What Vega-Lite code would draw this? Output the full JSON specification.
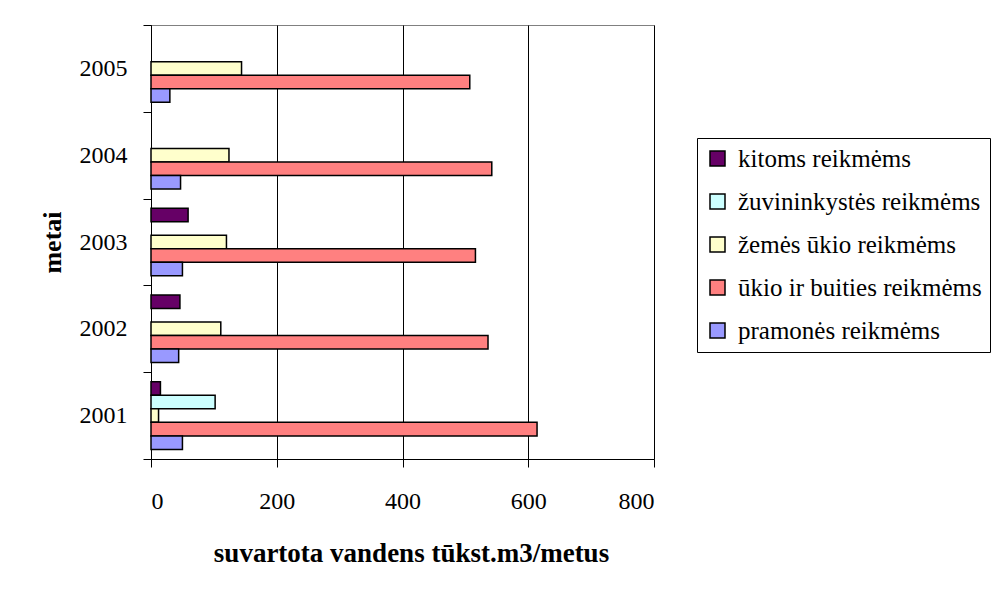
{
  "$schema": "https://vega.github.io/schema/vega-lite/v6.json",
  "width": 503,
  "height": 434,
  "autosize": {"type": "none"},
  "padding": {"left": 151, "top": 25, "right": 338, "bottom": 134},
  "background": "white",
  "config": {
    "font": "Liberation Serif",
    "view": {"stroke": "#808080", "strokeWidth": 1}
  },
  "data": {
    "values": [
      {"year": "2001", "series": "kitoms reikmėms", "value": 15},
      {"year": "2001", "series": "žuvininkystės reikmėms", "value": 102},
      {"year": "2001", "series": "žemės ūkio reikmėms", "value": 12},
      {"year": "2001", "series": "ūkio ir buities reikmėms", "value": 614},
      {"year": "2001", "series": "pramonės reikmėms", "value": 50},
      {"year": "2002", "series": "kitoms reikmėms", "value": 46},
      {"year": "2002", "series": "žemės ūkio reikmėms", "value": 111},
      {"year": "2002", "series": "ūkio ir buities reikmėms", "value": 536},
      {"year": "2002", "series": "pramonės reikmėms", "value": 44},
      {"year": "2003", "series": "kitoms reikmėms", "value": 59},
      {"year": "2003", "series": "žemės ūkio reikmėms", "value": 120},
      {"year": "2003", "series": "ūkio ir buities reikmėms", "value": 516},
      {"year": "2003", "series": "pramonės reikmėms", "value": 50},
      {"year": "2004", "series": "žemės ūkio reikmėms", "value": 124},
      {"year": "2004", "series": "ūkio ir buities reikmėms", "value": 542},
      {"year": "2004", "series": "pramonės reikmėms", "value": 47},
      {"year": "2005", "series": "žemės ūkio reikmėms", "value": 144},
      {"year": "2005", "series": "ūkio ir buities reikmėms", "value": 507},
      {"year": "2005", "series": "pramonės reikmėms", "value": 30}
    ]
  },
  "mark": {"type": "bar", "stroke": "black", "strokeWidth": 1.5},
  "encoding": {
    "y": {
      "field": "year",
      "type": "ordinal",
      "sort": "descending",
      "scale": {"domain": ["2005", "2004", "2003", "2002", "2001"], "paddingInner": 0, "paddingOuter": 0},
      "axis": {
        "title": "metai",
        "titleFont": "Liberation Serif",
        "titleFontSize": 26,
        "titleFontWeight": "bold",
        "titleColor": "black",
        "titlePadding": 14,
        "labelFont": "Liberation Serif",
        "labelFontSize": 24,
        "labelColor": "black",
        "labelPadding": 16,
        "tickBand": "extent",
        "tickSize": 8,
        "tickColor": "black",
        "domainColor": "black",
        "grid": false
      }
    },
    "yOffset": {
      "field": "series",
      "type": "nominal",
      "scale": {
        "domain": ["kitoms reikmėms", "žuvininkystės reikmėms", "žemės ūkio reikmėms", "ūkio ir buities reikmėms", "pramonės reikmėms"],
        "paddingInner": 0,
        "paddingOuter": 0.71
      }
    },
    "x": {
      "field": "value",
      "type": "quantitative",
      "scale": {"domain": [0, 800], "nice": false},
      "axis": {
        "title": "suvartota vandens tūkst.m3/metus",
        "titleFont": "Liberation Serif",
        "titleFontSize": 27,
        "titleFontWeight": "bold",
        "titleColor": "black",
        "titlePadding": 27,
        "titleX": 260,
        "titleAlign": "center",
        "labelFont": "Liberation Serif",
        "labelFontSize": 24,
        "labelColor": "black",
        "labelPadding": 22,
        "values": [0, 200, 400, 600, 800],
        "tickSize": 8,
        "tickColor": "black",
        "domainColor": "black",
        "grid": true,
        "gridColor": "black",
        "gridOpacity": 1
      }
    },
    "color": {
      "field": "series",
      "type": "nominal",
      "scale": {
        "domain": ["kitoms reikmėms", "žuvininkystės reikmėms", "žemės ūkio reikmėms", "ūkio ir buities reikmėms", "pramonės reikmėms"],
        "range": ["#660066", "#CCFFFF", "#FFFFCC", "#FF8080", "#9999FF"]
      },
      "legend": {
        "title": null,
        "orient": "none",
        "legendX": 546,
        "legendY": 113,
        "strokeColor": "black",
        "fillColor": "white",
        "padding": 8,
        "rowPadding": 17,
        "symbolType": "square",
        "symbolSize": 225,
        "symbolStrokeColor": "black",
        "symbolStrokeWidth": 1.5,
        "symbolOpacity": 1,
        "labelFont": "Liberation Serif",
        "labelFontSize": 25,
        "labelColor": "black",
        "labelOffset": 8,
        "labelLimit": 400
      }
    }
  }
}
